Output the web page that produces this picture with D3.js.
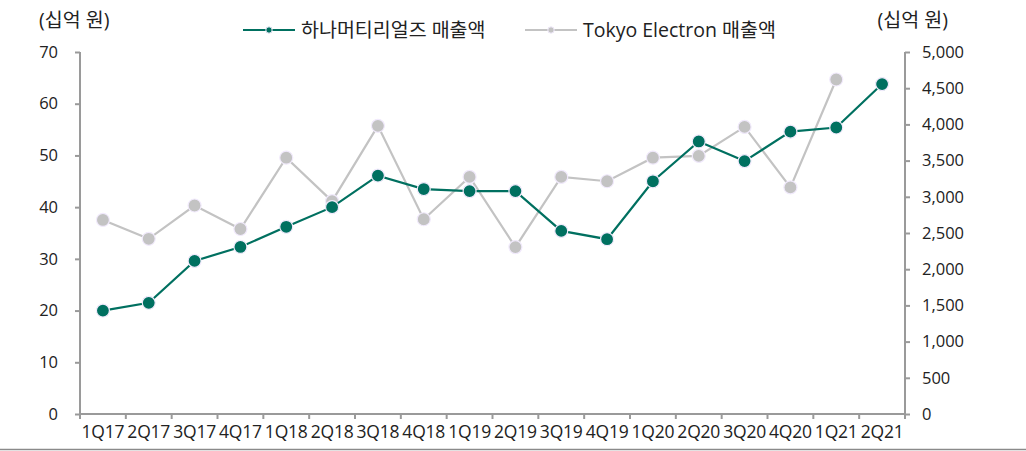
<!DOCTYPE html>
<meta charset="utf-8">
<body style="margin:0;background:#fff">
<div id="chart"></div>
<style>
  text { font-family: "Open Sans", "Noto Sans CJK KR", sans-serif; fill: #222; }
</style>
<script src="https://d3js.org/d3.v7.min.js"></script>
<script>
  var quarters = ["1Q17","2Q17","3Q17","4Q17","1Q18","2Q18","3Q18","4Q18","1Q19","2Q19",
                  "3Q19","4Q19","1Q20","2Q20","3Q20","4Q20","1Q21","2Q21"];
  var hanaSales = [20.0, 21.5, 29.6, 32.3, 36.2, 40.0, 46.1, 43.5, 43.1, 43.1,
                   35.4, 33.8, 45.0, 52.7, 48.9, 54.6, 55.4, 63.8];
  var telSales = [2680, 2420, 2880, 2555, 3540, 2940, 3980, 2690, 3275, 2305,
                  3275, 3215, 3540, 3565, 3965, 3130, 4620, null];
  var leftTicks = [0, 10, 20, 30, 40, 50, 60, 70];
  var rightTicks = [0, 500, 1000, 1500, 2000, 2500, 3000, 3500, 4000, 4500, 5000];

  var width = 1026, height = 451;
  var mLeft = 80, mRight = 905, mTop = 52, mBottom = 414;
  var green = "#007060", grey = "#c3c3c3", axisCol = "#9a9a9a";

  var svg = d3.select("#chart").append("svg")
      .attr("width", width).attr("height", height);

  var x = d3.scaleBand().domain(quarters).range([mLeft, mRight]);
  var yL = d3.scaleLinear().domain([0, 70]).range([mBottom, mTop]);
  var yR = d3.scaleLinear().domain([0, 5000]).range([mBottom, mTop]);

  // axes
  var gl = svg.append("g").attr("transform", "translate(" + mLeft + ",0)")
      .call(d3.axisLeft(yL).tickValues(leftTicks).tickSize(5).tickPadding(17));
  var gr = svg.append("g").attr("transform", "translate(" + mRight + ",0)")
      .call(d3.axisRight(yR).tickValues(rightTicks).tickSize(5).tickPadding(12)
        .tickFormat(d3.format(",")));
  var gx = svg.append("g").attr("transform", "translate(0," + mBottom + ")")
      .call(d3.axisBottom(x).tickSize(0).tickPadding(12));
  [gl, gr, gx].forEach(function(g) {
    g.select(".domain").attr("stroke", axisCol).attr("stroke-width", 2);
    g.selectAll(".tick line").attr("stroke", axisCol).attr("stroke-width", 2);
    g.selectAll("text").style("font-size", "16.5px").attr("fill", "#222");
  });
  gx.selectAll("text").style("font-size", "17.5px").style("letter-spacing", "-0.2px");
  gx.select(".domain").attr("d", "M" + mLeft + ",0H" + mRight);
  gl.select(".domain").attr("d", "M0," + mTop + "V" + mBottom);
  gr.select(".domain").attr("d", "M0," + mTop + "V" + mBottom);

  // category boundary ticks
  var bounds = quarters.map(function(q) { return x(q); }).concat([mRight]);
  svg.append("g").selectAll("line").data(bounds).enter().append("line")
      .attr("x1", function(d) { return d; }).attr("x2", function(d) { return d; })
      .attr("y1", mBottom).attr("y2", mBottom + 5)
      .attr("stroke", axisCol).attr("stroke-width", 2);

  // axis titles
  svg.append("text").attr("x", 39).attr("y", 27).style("font-size", "19.5px").text("(십억 원)");
  svg.append("text").attr("x", 948).attr("y", 27).attr("text-anchor", "end")
      .style("font-size", "19.5px").text("(십억 원)");

  // bottom rule
  svg.append("line").attr("x1", 0).attr("x2", width).attr("y1", 449.5).attr("y2", 449.5)
      .attr("stroke", "#8a8a8a").attr("stroke-width", 1.5);

  function cx(i) { return x(quarters[i]) + x.bandwidth() / 2; }

  function drawSeries(vals, scale, color) {
    var pts = vals.map(function(v, i) { return {v: v, i: i}; })
      .filter(function(d) { return d.v != null; });
    var line = d3.line()
      .x(function(d) { return cx(d.i); })
      .y(function(d) { return scale(d.v); });
    svg.append("path").datum(pts).attr("d", line)
      .attr("fill", "none").attr("stroke", color).attr("stroke-width", 2.2);
    svg.append("g").selectAll("circle").data(pts).enter().append("circle")
      .attr("cx", function(d) { return cx(d.i); })
      .attr("cy", function(d) { return scale(d.v); })
      .attr("r", 6.5).attr("fill", color)
      .attr("stroke", "#f1eafc").attr("stroke-width", 1.2);
  }
  drawSeries(telSales, yR, grey);
  drawSeries(hanaSales, yL, green);

  // legend
  var legend = [
    {name: "하나머티리얼즈 매출액", color: green, x: 243},
    {name: "Tokyo Electron 매출액", color: grey, x: 525}
  ];
  var lg = svg.append("g").selectAll("g").data(legend).enter().append("g");
  lg.append("line").attr("x1", function(d) { return d.x; }).attr("x2", function(d) { return d.x + 52; })
    .attr("y1", 30).attr("y2", 30).attr("stroke", function(d) { return d.color; }).attr("stroke-width", 2.2);
  lg.append("circle").attr("cx", function(d) { return d.x + 26; }).attr("cy", 30).attr("r", 3.2)
    .attr("fill", function(d) { return d.color; }).attr("stroke", "#f1eafc").attr("stroke-width", 1);
  lg.append("text").attr("x", function(d) { return d.x + 58; }).attr("y", 37)
    .style("font-size", "19.5px").text(function(d) { return d.name; });
</script>
</body>
